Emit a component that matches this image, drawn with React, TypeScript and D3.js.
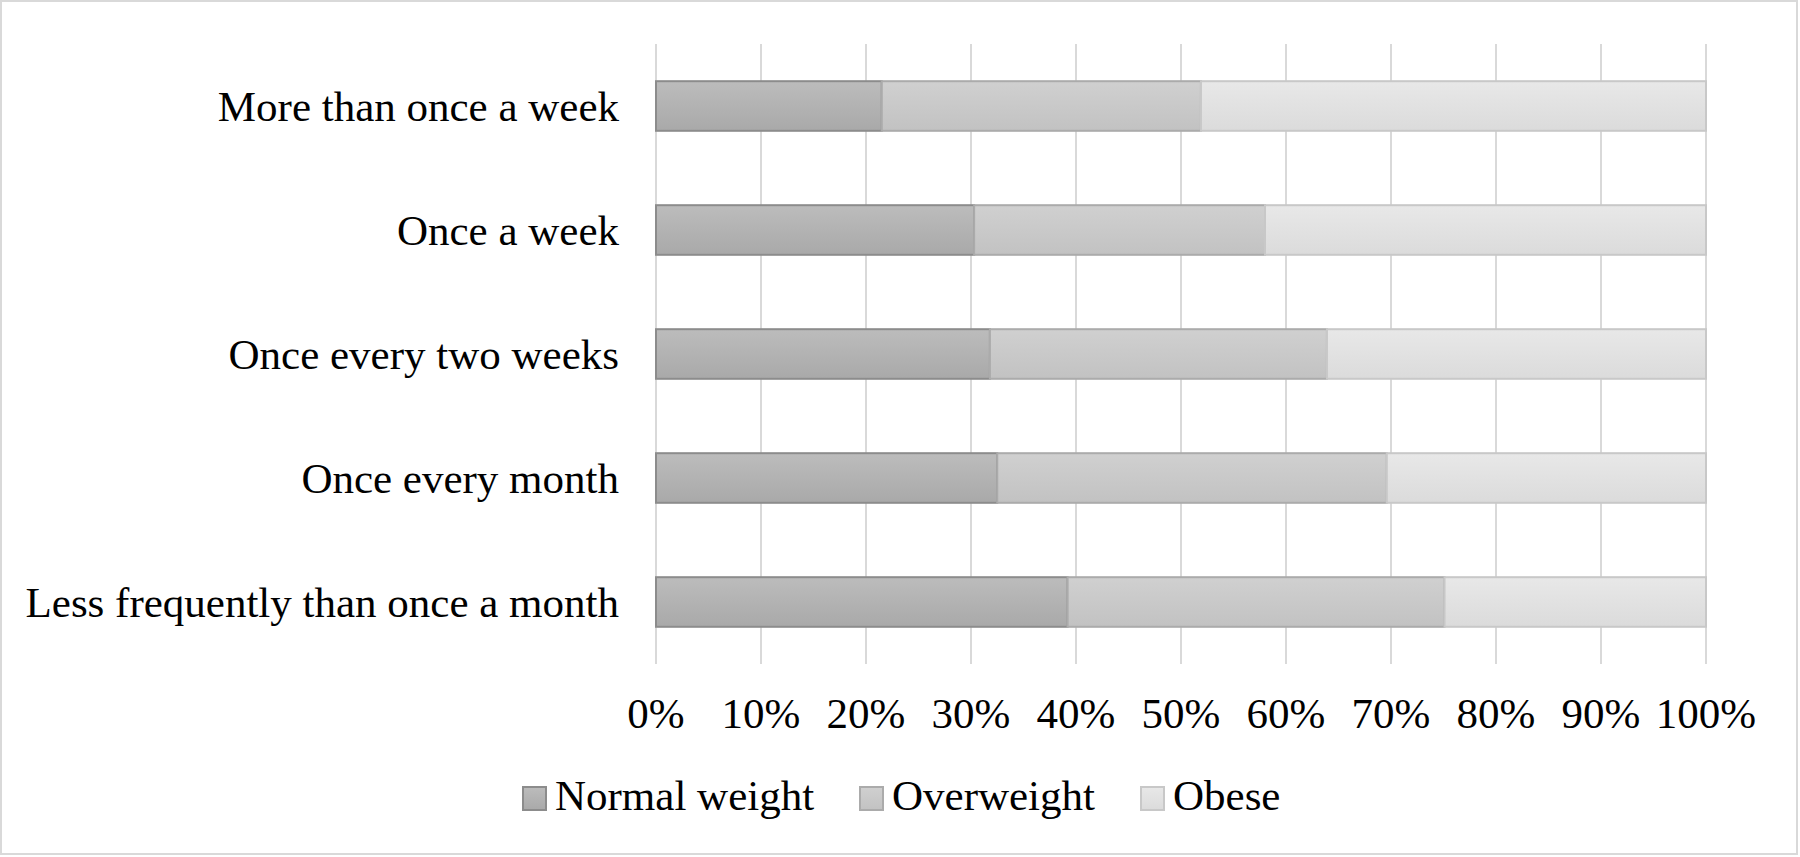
import React, { useEffect, useRef } from 'react';
import * as d3 from 'd3';

const categories = [
  'More than once a week',
  'Once a week',
  'Once every two weeks',
  'Once every month',
  'Less frequently than once a month',
];
const seriesNames = ['Normal weight', 'Overweight', 'Obese'];
const normalWeight = [21.5, 30.3, 31.8, 32.5, 39.2];
const overweight = [30.4, 27.7, 32.1, 37.1, 35.9];
const obese = [48.1, 42.0, 36.1, 30.4, 24.9];
const xTicks = [0, 10, 20, 30, 40, 50, 60, 70, 80, 90, 100];

const fills = [
  { top: '#bcbcbc', bottom: '#a9a9a9', stroke: '#8c8c8c' },
  { top: '#d0d0d0', bottom: '#c2c2c2', stroke: '#ababab' },
  { top: '#e8e8e8', bottom: '#dbdbdb', stroke: '#c8c8c8' },
];

// legend marker left edges, as Excel placed them
const legendX = [523, 860, 1141];

const App: React.FC = () => {
  const svgRef = useRef<SVGSVGElement>(null);

  useEffect(() => {
    if (!svgRef.current) return;
    document.body.style.margin = '0';

    const width = 1800;
    const height = 857;
    const plot = { left: 656, right: 1706, top: 44, bottom: 664 };
    const font = '"Liberation Serif", "Times New Roman", serif';

    const svg = d3.select(svgRef.current)
      .attr('width', width)
      .attr('height', height)
      .html('');

    const defs = svg.append('defs');
    fills.forEach((f, i) => {
      const g = defs.append('linearGradient')
        .attr('id', `grad${i}`)
        .attr('x1', 0).attr('y1', 0).attr('x2', 0).attr('y2', 1);
      g.append('stop').attr('offset', '0%').attr('stop-color', f.top);
      g.append('stop').attr('offset', '100%').attr('stop-color', f.bottom);
    });

    svg.append('rect')
      .attr('x', 1).attr('y', 1)
      .attr('width', width - 4).attr('height', height - 4)
      .attr('fill', '#fff')
      .attr('stroke', '#d9d9d9')
      .attr('stroke-width', 2);

    const x = d3.scaleLinear().domain([0, 100]).range([plot.left, plot.right]);
    const y = d3.scaleBand<string>()
      .domain(categories)
      .range([plot.top, plot.bottom])
      .paddingInner(0.6)
      .paddingOuter(0.3);

    // gridlines
    svg.append('g')
      .selectAll('line')
      .data(xTicks)
      .join('line')
      .attr('x1', (d) => x(d))
      .attr('x2', (d) => x(d))
      .attr('y1', plot.top)
      .attr('y2', plot.bottom)
      .attr('stroke', '#d9d9d9')
      .attr('stroke-width', 2);

    const rows = categories.map((c, i) => ({
      category: c,
      'Normal weight': normalWeight[i],
      Overweight: overweight[i],
      Obese: obese[i],
    }));
    const stacked = d3.stack<any>().keys(seriesNames)(rows);

    stacked.forEach((layer, i) => {
      svg.append('g')
        .selectAll('rect')
        .data(layer)
        .join('rect')
        .attr('x', (d) => x(d[0]))
        .attr('y', (d) => y(d.data.category)!)
        .attr('width', (d) => x(d[1]) - x(d[0]))
        .attr('height', y.bandwidth())
        .attr('fill', `url(#grad${i})`)
        .attr('stroke', fills[i].stroke)
        .attr('stroke-width', 2);
    });

    // category labels
    svg.append('g')
      .selectAll('text')
      .data(categories)
      .join('text')
      .attr('x', plot.left - 37)
      .attr('y', (d) => y(d)! + y.bandwidth() / 2)
      .attr('dy', '0.34em')
      .attr('text-anchor', 'end')
      .attr('font-family', font)
      .attr('font-size', 43)
      .attr('fill', '#000')
      .text((d) => d);

    // x tick labels
    svg.append('g')
      .selectAll('text')
      .data(xTicks)
      .join('text')
      .attr('x', (d) => x(d))
      .attr('y', 728)
      .attr('text-anchor', 'middle')
      .attr('font-family', font)
      .attr('font-size', 43)
      .attr('fill', '#000')
      .text((d) => `${d}%`);

    // legend
    const marker = 23;
    const legend = svg.append('g').attr('transform', 'translate(0,810)');
    seriesNames.forEach((name, i) => {
      const item = legend.append('g').attr('transform', `translate(${legendX[i]},0)`);
      item.append('rect')
        .attr('x', 0).attr('y', -23)
        .attr('width', marker).attr('height', marker)
        .attr('fill', `url(#grad${i})`)
        .attr('stroke', fills[i].stroke)
        .attr('stroke-width', 2);
      item.append('text')
        .attr('x', marker + 9)
        .attr('y', 0)
        .attr('font-family', font)
        .attr('font-size', 43)
        .attr('fill', '#000')
        .text(name);
    });
  }, []);

  return <svg ref={svgRef} style={{ display: 'block' }}></svg>;
};

export default App;
